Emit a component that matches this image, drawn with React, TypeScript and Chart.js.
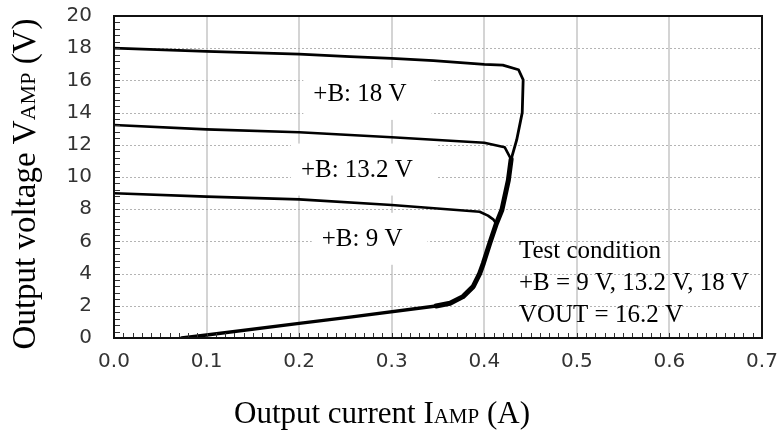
import React, { useEffect, useRef } from "react";
import { Chart, registerables } from "chart.js";

Chart.register(...registerables);

// ---- Data ----
const xTickValues = [0, 0.1, 0.2, 0.3, 0.4, 0.5, 0.6, 0.7];
const xTickLabels = ["0.0", "0.1", "0.2", "0.3", "0.4", "0.5", "0.6", "0.7"];
const yTickValues = [0, 2, 4, 6, 8, 10, 12, 14, 16, 18, 20];
const yTickLabels = ["0", "2", "4", "6", "8", "10", "12", "14", "16", "18", "20"];

// +B = 18 V curve (A, V)
const current18 = [0, 0.1, 0.2, 0.255, 0.3, 0.345, 0.4, 0.42, 0.437, 0.442, 0.441, 0.435, 0.429];
const voltage18 = [18.0, 17.8, 17.63, 17.48, 17.37, 17.23, 17.0, 16.95, 16.66, 16.04, 14.0, 12.3, 11.1];
// +B = 13.2 V curve
const current13 = [0, 0.1, 0.2, 0.3, 0.4, 0.411, 0.422, 0.428];
const voltage13 = [13.23, 12.96, 12.78, 12.47, 12.13, 11.99, 11.85, 11.2];
// +B = 9 V curve
const current9 = [0, 0.1, 0.2, 0.3, 0.395, 0.404, 0.41, 0.413];
const voltage9 = [8.99, 8.78, 8.61, 8.26, 7.84, 7.6, 7.35, 7.1];
// shared current-limit trunk (all three overlap)
const currentTrunk = [0.429, 0.426, 0.419, 0.413, 0.406, 0.399, 0.395, 0.388, 0.377, 0.363, 0.348];
const voltageTrunk = [11.1, 9.8, 7.95, 7.1, 5.9, 4.64, 4.0, 3.19, 2.57, 2.16, 1.99];
// low-voltage foldback line
const currentLow = [0.348, 0.255, 0.2, 0.1, 0.073];
const voltageLow = [1.99, 1.3, 0.91, 0.19, 0];

// Annotations
const curveLabels = ["+B: 18 V", "+B: 13.2 V", "+B: 9 V"];
const curveLabelX = [0.2657, 0.2624, 0.268];
const curveLabelY = [15.1, 10.4, 6.1];
const conditionLines = ["Test condition", "+B = 9 V, 13.2 V, 18 V", "VOUT = 16.2 V"];
const conditionX = 0.4374;
const conditionY = [4.97, 2.98, 0.99];

const xTitleParts = ["Output current I", "AMP", " (A)"];
const yTitleParts = ["Output voltage V", "AMP", " (V)"];

const SERIF = '"Liberation Serif", "Times New Roman", serif';
const SANS = '"DejaVu Sans", Verdana, sans-serif';

function toPoints(xs: number[], ys: number[]) {
  return xs.map((x, i) => ({ x, y: ys[i] }));
}

function drawRich(ctx: CanvasRenderingContext2D, parts: string[], sizes: number[], cx: number, baseline: number) {
  let total = 0;
  const widths = parts.map((p, i) => {
    ctx.font = `${sizes[i]}px ${SERIF}`;
    const w = ctx.measureText(p).width;
    total += w;
    return w;
  });
  let x = cx - total / 2;
  ctx.textAlign = "left";
  ctx.textBaseline = "alphabetic";
  parts.forEach((p, i) => {
    ctx.font = `${sizes[i]}px ${SERIF}`;
    ctx.fillText(p, x, baseline);
    x += widths[i];
  });
}

function zeroPadding(s: any) {
  s.paddingLeft = 0;
  s.paddingRight = 0;
  s.paddingTop = 0;
  s.paddingBottom = 0;
}

export default function App() {
  const ref = useRef<HTMLCanvasElement>(null);

  useEffect(() => {
    const canvas = ref.current;
    if (!canvas) return;

    const customPlugin = {
      id: "customDecor",
      beforeDatasetsDraw(chart: any) {
        const { ctx, chartArea: a, scales } = chart;
        const xs = scales.x;
        const ys = scales.y;
        ctx.save();
        // vertical solid grid lines
        ctx.strokeStyle = "#c6c6c6";
        ctx.lineWidth = 1.5;
        for (let i = 1; i < xTickValues.length - 1; i++) {
          const px = Math.round(xs.getPixelForValue(xTickValues[i]));
          ctx.beginPath();
          ctx.moveTo(px, a.top);
          ctx.lineTo(px, a.bottom);
          ctx.stroke();
        }
        // horizontal dotted grid lines
        ctx.strokeStyle = "#b4b4b4";
        ctx.lineWidth = 1;
        ctx.setLineDash([2, 2]);
        for (let i = 1; i < yTickValues.length - 1; i++) {
          const py = Math.round(ys.getPixelForValue(yTickValues[i])) + 0.5;
          ctx.beginPath();
          ctx.moveTo(a.left, py);
          ctx.lineTo(a.right, py);
          ctx.stroke();
        }
        ctx.setLineDash([]);
        // white boxes behind curve labels
        ctx.font = `25px ${SERIF}`;
        ctx.fillStyle = "#ffffff";
        curveLabels.forEach((t, i) => {
          const cx = xs.getPixelForValue(curveLabelX[i]);
          const cy = ys.getPixelForValue(curveLabelY[i]);
          const w = ctx.measureText(t).width;
          ctx.fillRect(cx - w / 2 - 10, cy - 27, w + 35, 52);
        });
        ctx.restore();
      },
      afterDatasetsDraw(chart: any) {
        const { ctx, chartArea: a, scales } = chart;
        const xs = scales.x;
        const ys = scales.y;
        ctx.save();
        // minor ticks (inward)
        ctx.strokeStyle = "#333";
        ctx.lineWidth = 1;
        for (let i = 0; i <= 50; i++) {
          const py = Math.round(ys.getPixelForValue(i * 0.4)) + 0.5;
          ctx.beginPath();
          ctx.moveTo(a.left, py);
          ctx.lineTo(a.left + 6, py);
          ctx.stroke();
        }
        for (let i = 0; i <= 70; i++) {
          const px = Math.round(xs.getPixelForValue(i * 0.01)) + 0.5;
          ctx.beginPath();
          ctx.moveTo(px, a.bottom);
          ctx.lineTo(px, a.bottom - 5);
          ctx.stroke();
        }
        // frame
        ctx.strokeStyle = "#111";
        ctx.lineWidth = 2;
        ctx.strokeRect(a.left, a.top, a.right - a.left, a.bottom - a.top);
        ctx.restore();
      },
      afterDraw(chart: any) {
        const { ctx, scales } = chart;
        const xs = scales.x;
        const ys = scales.y;
        ctx.save();
        ctx.fillStyle = "#000";
        // curve labels
        ctx.font = `25px ${SERIF}`;
        ctx.textAlign = "center";
        ctx.textBaseline = "middle";
        curveLabels.forEach((t, i) => {
          ctx.fillText(t, xs.getPixelForValue(curveLabelX[i]), ys.getPixelForValue(curveLabelY[i]));
        });
        // test condition
        ctx.textAlign = "left";
        ctx.textBaseline = "alphabetic";
        conditionLines.forEach((t, i) => {
          ctx.fillText(t, xs.getPixelForValue(conditionX), ys.getPixelForValue(conditionY[i]));
        });
        // axis titles
        drawRich(ctx, xTitleParts, [31, 21, 31], 382, 423);
        ctx.save();
        ctx.translate(35, 184);
        ctx.rotate(-Math.PI / 2);
        drawRich(ctx, yTitleParts, [33, 22, 33], 0, 0);
        ctx.restore();
        ctx.restore();
      },
    };

    const lineStyle = {
      showLine: true,
      borderColor: "#000",
      pointRadius: 0,
      fill: false,
      borderJoinStyle: "round" as const,
      borderCapStyle: "round" as const,
      tension: 0,
    };

    const chart = new Chart(canvas, {
      type: "scatter",
      data: {
        datasets: [
          { ...lineStyle, label: "+B 18 V", data: toPoints(current18, voltage18), borderWidth: 2.8 },
          { ...lineStyle, label: "+B 13.2 V", data: toPoints(current13, voltage13), borderWidth: 2.6 },
          { ...lineStyle, label: "+B 9 V", data: toPoints(current9, voltage9), borderWidth: 2.6 },
          { ...lineStyle, label: "trunk", data: toPoints(currentTrunk, voltageTrunk), borderWidth: 5 },
          { ...lineStyle, label: "low", data: toPoints(currentLow, voltageLow), borderWidth: 3.4 },
        ],
      },
      options: {
        responsive: false,
        animation: false,
        events: [],
        layout: { padding: { left: 0, right: 15, top: 16, bottom: 0 } },
        plugins: { legend: { display: false }, tooltip: { enabled: false } },
        scales: {
          x: {
            type: "linear",
            min: 0,
            max: 0.7,
            afterBuildTicks: (s: any) => {
              s.ticks = xTickValues.map((v) => ({ value: v }));
            },
            afterFit: (s: any) => {
              s.height = 96;
              zeroPadding(s);
            },
            ticks: {
              callback: (_v: any, i: number) => xTickLabels[i],
              font: { family: SANS, size: 20 },
              color: "#333",
              padding: 12,
              maxRotation: 0,
              autoSkip: false,
            },
            grid: { display: false, drawTicks: false },
            border: { display: false },
          },
          y: {
            type: "linear",
            min: 0,
            max: 20,
            afterBuildTicks: (s: any) => {
              s.ticks = yTickValues.map((v) => ({ value: v }));
            },
            afterFit: (s: any) => {
              s.width = 114;
              zeroPadding(s);
            },
            ticks: {
              callback: (_v: any, i: number) => yTickLabels[i],
              font: { family: SANS, size: 20 },
              color: "#333",
              padding: 22,
              autoSkip: false,
            },
            grid: { display: false, drawTicks: false },
            border: { display: false },
          },
        },
      },
      plugins: [customPlugin],
    });

    return () => chart.destroy();
  }, []);

  return (
    <div style={{ position: "absolute", left: 0, top: 0, width: 777, height: 434, background: "#fff" }}>
      <canvas ref={ref} width={777} height={434} style={{ display: "block" }} />
    </div>
  );
}
